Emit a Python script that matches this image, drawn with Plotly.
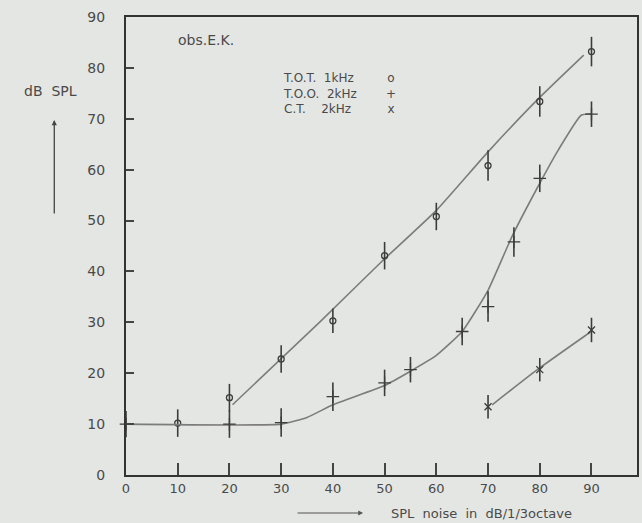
import plotly.graph_objects as go

# T.O.T. 1 kHz (open circles): measured points and spread
tot_x = [10, 20, 30, 40, 50, 60, 70, 80, 90]
tot_y = [10.2, 15.2, 22.8, 30.3, 43.1, 50.8, 60.8, 73.4, 83.2]
tot_err = [2.7, 2.7, 2.7, 2.4, 2.7, 2.7, 3.0, 3.0, 2.9]
# hand-fitted curve for T.O.T.
tot_fit_x = [20.6, 37.4, 49.3, 60.0, 70.0, 79.8, 88.5]
tot_fit_y = [13.8, 30.0, 41.8, 52.0, 63.5, 74.0, 82.5]

# T.O.O. 2 kHz (plus signs)
too_x = [0, 20, 30, 40, 50, 55, 65, 70, 75, 80, 90]
too_y = [10.0, 10.0, 10.3, 15.4, 18.1, 20.7, 28.2, 33.1, 45.8, 58.3, 70.9]
too_err = [2.6, 2.7, 2.8, 2.8, 2.6, 2.5, 2.7, 3.0, 2.9, 2.7, 2.5]
# hand-fitted curve for T.O.O.
too_fit_x = [0, 30, 35, 40, 50, 55, 60, 65, 70, 74.6, 79.4, 83.6, 88.0, 90.0]
too_fit_y = [10.0, 10.0, 11.3, 13.8, 17.6, 20.4, 23.5, 28.2, 36.3, 46.8, 56.2, 63.9, 70.7, 71.0]

# C.T. 2 kHz (crosses)
ct_x = [70, 80, 90]
ct_y = [13.4, 20.7, 28.5]
ct_err = [2.3, 2.3, 2.4]
# hand-fitted curve for C.T.
ct_fit_x = [70.8, 79.4, 89.8]
ct_fit_y = [13.8, 20.6, 28.1]

x_ticks = [0, 10, 20, 30, 40, 50, 60, 70, 80, 90]
y_ticks = [0, 10, 20, 30, 40, 50, 60, 70, 80, 90]

legend_names = ["T.O.T.  1kHz", "T.O.O.  2kHz", "C.T.    2kHz"]
legend_syms = ["o", "+", "x"]

BG = "#e4e6e3"
INK = "#3c3c3c"
LINE = "#7c7c7c"
TXT = "#4a4a4a"
FONT = "DejaVu Sans"

fig = go.Figure()

def add_series(xs, ys, errs, fx, fy, symbol, size):
    # fitted curve
    fig.add_trace(go.Scatter(
        x=fx, y=fy, mode="lines",
        line=dict(color=LINE, width=1.6, shape="spline", smoothing=0.45),
        hoverinfo="skip", showlegend=False,
    ))
    # measured values with spread
    fig.add_trace(go.Scatter(
        x=xs, y=ys, mode="markers",
        marker=dict(symbol=symbol, size=size, color=INK,
                    line=dict(color=INK, width=1.3)),
        error_y=dict(type="data", array=errs, visible=True,
                     color=INK, thickness=1.6, width=0),
        showlegend=False, cliponaxis=False,
    ))

add_series(tot_x, tot_y, tot_err, tot_fit_x, tot_fit_y, "circle-open", 6)
add_series(too_x, too_y, too_err, too_fit_x, too_fit_y, "cross-thin-open", 9)
add_series(ct_x, ct_y, ct_err, ct_fit_x, ct_fit_y, "x-thin-open", 7)

L, R, T, B = 126, 3, 17, 48
W, H = 642, 523
pw, ph = W - L - R, H - T - B

def px(xpix):
    return (xpix - L) / pw

def py(ypix):
    return (H - B - ypix) / ph

def label(xpix, ypix, text, size=14, xanchor="center", align="center"):
    return dict(x=px(xpix), y=py(ypix), xref="paper", yref="paper",
                text=text, showarrow=False, xanchor=xanchor, yanchor="middle",
                align=align, font=dict(family=FONT, size=size, color=TXT))

ann = [
    label(206, 40, "obs.E.K."),
    label(50, 91, "dB  SPL"),
    dict(x=px(54), y=py(120), xref="paper", yref="paper",
         text="", showarrow=True, ax=0, ay=95,
         arrowhead=2, arrowsize=0.8, arrowwidth=1.3, arrowcolor="#444"),
    # key: names and their marker glyphs, one block each
    label(282, 93, "<br>".join(legend_names), size=12, xanchor="left", align="left"),
    label(392, 93, "<br>".join(legend_syms), size=12),
    dict(x=px(364), y=py(513), xref="paper", yref="paper",
         text="", showarrow=True, ax=-67, ay=0,
         arrowhead=2, arrowsize=0.8, arrowwidth=1.2, arrowcolor="#555"),
    label(390, 513, "SPL  noise  in  dB/1/3octave", size=13, xanchor="left"),
]

fig.update_layout(
    width=W, height=H,
    margin=dict(l=L, r=R, t=T, b=B, pad=0),
    paper_bgcolor=BG, plot_bgcolor=BG,
    annotations=ann,
    font=dict(family=FONT, size=14, color=TXT),
)

fig.update_xaxes(
    range=[0, 98.8], tickvals=x_ticks, ticktext=[str(v) for v in x_ticks],
    showgrid=False, zeroline=False,
    showline=True, linecolor="#333", linewidth=2, mirror=True,
    ticks="inside", ticklen=12, tickwidth=1.6, tickcolor="#444",
    ticklabelstandoff=0,
    tickfont=dict(family=FONT, size=13, color=TXT),
)
fig.update_yaxes(
    range=[0, 90], tickvals=y_ticks, ticktext=[str(v) for v in y_ticks],
    showgrid=False, zeroline=False,
    showline=True, linecolor="#333", linewidth=2, mirror=True,
    ticks="inside", ticklen=8, tickwidth=1.6, tickcolor="#444",
    ticklabelstandoff=16,
    tickfont=dict(family=FONT, size=14, color=TXT),
)

fig.write_html("out.html")
